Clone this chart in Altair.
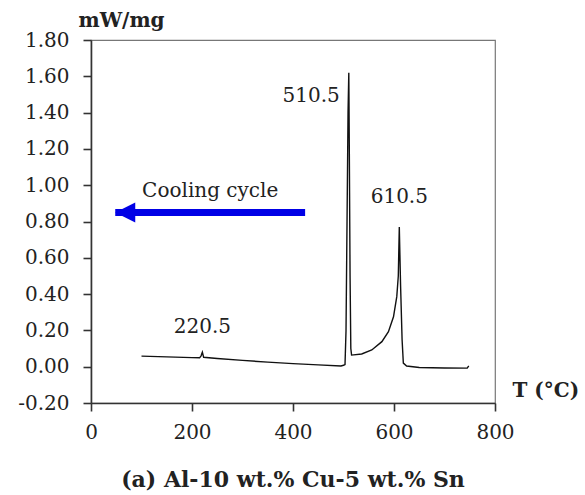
import altair as alt
import pandas as pd

# DSC cooling trace: temperature (°C) and heat flow (mW/mg)
temp = [100, 150, 200, 215, 218, 220.5, 223, 250, 300, 350, 400, 450, 495,
        500, 503, 505, 507, 509, 510.5, 511.5, 513, 514.5, 516,
        536, 556, 576, 589, 599, 605.5, 608.5, 610.5, 613, 616, 618.5, 625,
        650, 700, 745, 748]
heat = [0.058, 0.054, 0.050, 0.049, 0.06, 0.08, 0.052, 0.045, 0.035, 0.025,
        0.017, 0.010, 0.004,
        0.008, 0.012, 0.20, 0.80, 1.40, 1.62, 1.20, 0.50, 0.10, 0.064,
        0.070, 0.092, 0.138, 0.193, 0.275, 0.386, 0.50, 0.77, 0.45, 0.15,
        0.020, 0.004,
        -0.004, -0.007, -0.008, 0.005]

# Peak temperatures and heights
peak_temp = [220.5, 510.5, 610.5]
peak_heat = [0.08, 1.62, 0.77]

# Cooling-direction arrow (tail -> tip, °C) and its level (mW/mg)
arrow_tail = [424]
arrow_tip = [48]
arrow_level = [0.85]
arrow_text = ["Cooling cycle"]

x_ticks = [0, 200, 400, 600, 800]
y_ticks = [-0.2, 0.0, 0.2, 0.4, 0.6, 0.8, 1.0, 1.2, 1.4, 1.6, 1.8]

FONT = "DejaVu Serif"
INK = "#222222"
SIZE = 20

curve = pd.DataFrame({"T": temp, "q": heat})
peaks = pd.DataFrame({"T": peak_temp, "q": peak_heat,
                      "label": [f"{t:.1f}" for t in peak_temp]})
arrow = pd.DataFrame({"tail": arrow_tail, "tip": arrow_tip,
                      "q": arrow_level, "text": arrow_text})
arrow["mid"] = (arrow["tail"] + arrow["tip"]) / 2

x_scale = alt.Scale(domain=[0, 800], nice=False, zero=False)
y_scale = alt.Scale(domain=[-0.2, 1.8], nice=False, zero=False)

x_axis = alt.Axis(
    values=x_ticks, tickCount=len(x_ticks), format="d", grid=False,
    labelFlush=False, labelOverlap=False,
    domainColor="#333333", domainWidth=1.6, tickColor="#333333", tickWidth=1.6,
    tickSize=8, labelFont=FONT, labelFontSize=SIZE, labelColor=INK, labelPadding=11,
    title="T (°C)", titleFont=FONT, titleFontSize=SIZE, titleFontWeight="bold",
    titleColor=INK, titleAngle=0, titleAlign="left", titleBaseline="alphabetic",
    titleX=421, titleY=-7,
)
y_axis = alt.Axis(
    values=y_ticks, tickCount=len(y_ticks), grid=False,
    labelOverlap=False, labelFlush=False,
    labelExpr="replace(format(datum.value, '.2f'), '\u2212', '-')",
    domainColor="#333333", domainWidth=1.6, tickColor="#333333", tickWidth=1.6,
    tickSize=8, labelFont=FONT, labelFontSize=SIZE, labelColor=INK, labelPadding=14,
    title="mW/mg", titleFont=FONT, titleFontSize=SIZE, titleFontWeight="bold",
    titleColor=INK, titleAngle=0, titleAlign="center", titleBaseline="alphabetic",
    titleX=30, titleY=-14,
)

line = alt.Chart(curve).mark_line(color="#111111", strokeWidth=1.4).encode(
    x=alt.X("T:Q", scale=x_scale, axis=x_axis),
    y=alt.Y("q:Q", scale=y_scale, axis=y_axis),
    order="T:Q",
)

text_style = dict(font=FONT, fontSize=SIZE, color=INK)

peak_low = alt.Chart(peaks).transform_filter("datum.T < 300").mark_text(
    align="center", baseline="alphabetic", dy=-19, **text_style
).encode(x="T:Q", y="q:Q", text="label:N")

peak_main = alt.Chart(peaks).transform_filter("datum.T > 500 && datum.T < 600").mark_text(
    align="right", baseline="alphabetic", dx=-9, dy=29, **text_style
).encode(x="T:Q", y="q:Q", text="label:N")

peak_high = alt.Chart(peaks).transform_filter("datum.T > 600").mark_text(
    align="center", baseline="alphabetic", dy=-24, **text_style
).encode(x="T:Q", y="q:Q", text="label:N")

shaft = alt.Chart(arrow).mark_rule(color="#0000e6", strokeWidth=7).encode(
    x="tail:Q", x2="tip:Q", y="q:Q"
)
# Head with its tip at the encoded point
head = alt.Chart(arrow).mark_point(
    shape="M0,0L2,-1L2,1Z", filled=True, color="#0000e6", opacity=1, size=400
).encode(x="tip:Q", y="q:Q")

arrow_label = alt.Chart(arrow).mark_text(
    align="center", baseline="alphabetic", dy=-15, **text_style
).encode(x="mid:Q", y="q:Q", text="text:N")

chart = alt.layer(
    line, peak_low, peak_main, peak_high, shaft, head, arrow_label
).properties(
    width=404, height=363,
    title=alt.TitleParams(
        "(a) Al-10 wt.% Cu-5 wt.% Sn", orient="bottom", anchor="middle",
        font=FONT, fontSize=22, fontWeight="bold", color=INK, offset=28,
    ),
).configure_view(
    stroke="#777777", strokeWidth=1.2
).properties(
    autosize=alt.AutoSizeParams(type="none"),
    padding={"left": 91, "top": 40, "right": 90, "bottom": 92},
    background="white",
)

chart.save("out.html", embed_options={"renderer": "svg", "actions": False})
